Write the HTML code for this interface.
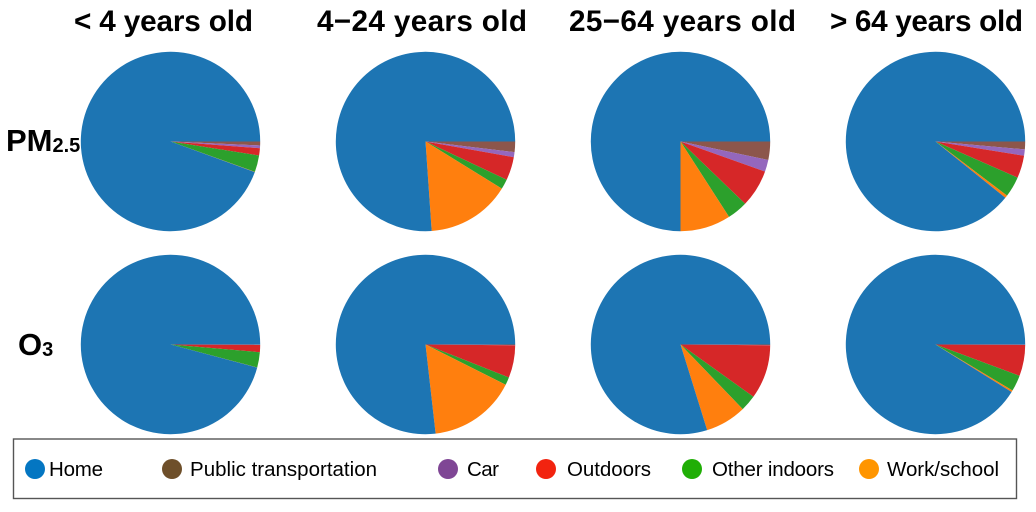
<!DOCTYPE html>
<html lang="en">
<head>
<meta charset="utf-8">
<title>Exposure by microenvironment and age group</title>
<style>
html,body{margin:0;padding:0;background:#fff;width:1036px;height:512px;overflow:hidden}
svg{display:block}
text{font-family:"Liberation Sans",Arial,sans-serif;fill:#000}
.title{font-size:29.7px;font-weight:bold}
.row{font-size:31px;font-weight:bold}
.sub{font-size:20px;font-weight:bold}
.leg{font-size:20.5px}
</style>
</head>
<body>
<svg id="chart" width="1036" height="512" viewBox="0 0 1036 512">
  <g id="pies"></g>
  <text class="title" x="74" y="31" textLength="179" lengthAdjust="spacing">&lt; 4 years old</text>
  <text class="title" x="317" y="31" textLength="210" lengthAdjust="spacing">4−24 years old</text>
  <text class="title" x="569" y="31" textLength="227" lengthAdjust="spacing">25−64 years old</text>
  <text class="title" x="830" y="31" textLength="193" lengthAdjust="spacing">&gt; 64 years old</text>
  <text x="6" y="151"><tspan class="row">PM</tspan><tspan class="sub" dy="1">2.5</tspan></text>
  <text x="18" y="355"><tspan class="row">O</tspan><tspan class="sub" dy="1">3</tspan></text>
  <g>
    <rect x="13.5" y="439" width="1003" height="59.5" fill="#fff" stroke="#555" stroke-width="1.4"/>
    <g><circle cx="35" cy="469" r="10" fill="#0476c2"/><text class="leg" x="49" y="476" textLength="54" lengthAdjust="spacing">Home</text></g>
    <g><circle cx="172" cy="469" r="10" fill="#6e4f2a"/><text class="leg" x="190" y="476" textLength="187" lengthAdjust="spacing">Public transportation</text></g>
    <g><circle cx="448" cy="469" r="10" fill="#7f4695"/><text class="leg" x="467" y="476" textLength="32" lengthAdjust="spacing">Car</text></g>
    <g><circle cx="546" cy="469" r="10" fill="#f2230f"/><text class="leg" x="567" y="476" textLength="84" lengthAdjust="spacing">Outdoors</text></g>
    <g><circle cx="692" cy="469" r="10" fill="#20ae06"/><text class="leg" x="712" y="476" textLength="122" lengthAdjust="spacing">Other indoors</text></g>
    <g><circle cx="869" cy="469" r="10" fill="#ff9500"/><text class="leg" x="887" y="476" textLength="112" lengthAdjust="spacing">Work/school</text></g>
  </g>
</svg>
<script>
// Percent of exposure by age group.
const ageGroups = ['under-4', '4-24', '25-64', 'over-64'];
const pollutants = ['pm25', 'o3'];
const categories = ['public', 'car', 'outdoors', 'other-indoors', 'work', 'home'];

const pm25Public = [0.7, 1.9, 3.3, 1.4];
const pm25Car = [0.5, 0.9, 2.15, 1.15];
const pm25Outdoors = [1.3, 4.2, 6.75, 4.05];
const pm25OtherIndoors = [3.0, 1.8, 3.7, 3.7];
const pm25Work = [0.05, 15.1, 9.1, 0.5];
const pm25Home = [94.45, 76.1, 75.0, 89.2];

const o3Public = [0.05, 0.1, 0.1, 0.05];
const o3Car = [0.02, 0.05, 0.05, 0.03];
const o3Outdoors = [1.3, 5.85, 9.75, 5.6];
const o3OtherIndoors = [2.75, 1.4, 2.9, 2.9];
const o3Work = [0.02, 15.8, 7.4, 0.3];
const o3Home = [95.86, 76.8, 79.8, 91.1];

const sliceColors = ['#8c564b', '#9467bd', '#d62728', '#2ca02c', '#ff7f0e', '#1d75b3'];

const pm25Series = [pm25Public, pm25Car, pm25Outdoors, pm25OtherIndoors, pm25Work, pm25Home];
const o3Series = [o3Public, o3Car, o3Outdoors, o3OtherIndoors, o3Work, o3Home];
const allSeries = [pm25Series, o3Series];

const NS = 'http://www.w3.org/2000/svg';
const RADIUS = 89.7;
function columnX(i) { return 170.5 + i * 255; }
function rowY(j) { return 141.5 + j * 203; }
function angleOf(value, total) { return value / total * 2 * Math.PI; }

const root = document.getElementById('pies');
allSeries.forEach(function (series, j) {
  ageGroups.forEach(function (age, i) {
    const total = series.reduce(function (s, arr) { return s + arr[i]; }, 0);
    const cx = columnX(i);
    const cy = rowY(j);
    const group = document.createElementNS(NS, 'g');
    
    
    let start = 0;
    series.forEach(function (arr, k) {
      const sweep = angleOf(arr[i], total);
      const end = start + sweep;
      const x0 = cx + RADIUS * Math.cos(start);
      const y0 = cy + RADIUS * Math.sin(start);
      const x1 = cx + RADIUS * Math.cos(end);
      const y1 = cy + RADIUS * Math.sin(end);
      const large = sweep > Math.PI ? 1 : 0;
      const slice = document.createElementNS(NS, 'path');
      slice.setAttribute('d', 'M' + cx + ' ' + cy + 'L' + x0 + ' ' + y0 + 'A' + RADIUS + ' ' + RADIUS + ' 0 ' + large + ' 1 ' + x1 + ' ' + y1 + 'Z');
      slice.setAttribute('fill', sliceColors[k]);
      
      
      group.appendChild(slice);
      start = end;
    });
    root.appendChild(group);
  });
});
</script>
</body>
</html>
